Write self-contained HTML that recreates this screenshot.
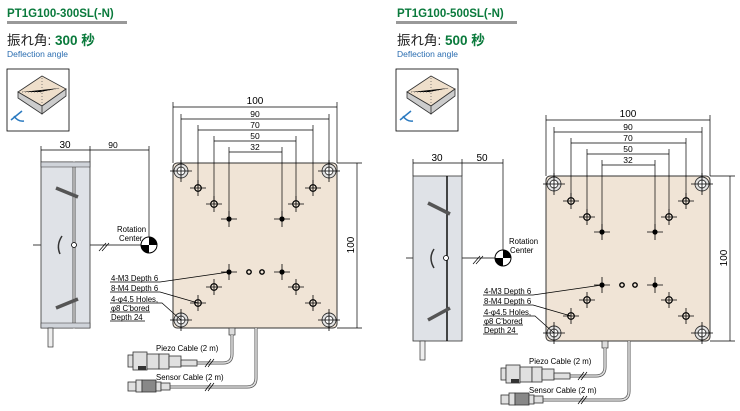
<!DOCTYPE html>
<html><head><meta charset="utf-8"><style>
html,body{margin:0;padding:0;background:#fff}
svg{display:block}
text{font-family:"Liberation Sans","Noto Sans CJK JP",sans-serif}
</style></head><body>
<svg width="740" height="411" viewBox="0 0 740 411" xmlns="http://www.w3.org/2000/svg">
<defs>
<g id="big"><circle r="7" fill="#e4e4e4" stroke="#333" stroke-width="0.9"/><circle r="4" fill="#fff" stroke="#333" stroke-width="0.9"/><path d="M-11 0H11M0 -11V11" stroke="#000" stroke-width="0.8"/></g>
<g id="m4"><circle r="3.3" fill="none" stroke="#000" stroke-width="1.2"/><path d="M-8 0H8M0 -8V8" stroke="#000" stroke-width="0.8"/></g>
<g id="m3"><circle r="2.6" fill="#000"/><path d="M-8 0H8M0 -8V8" stroke="#000" stroke-width="0.8"/></g>
<g id="plate">
<rect x="173" y="163" width="164" height="165" rx="4" fill="#f0e4d6" stroke="#333" stroke-width="1"/>
<g stroke="#000" stroke-width="0.7" fill="none">
<path d="M173 163V102M337 163V102M181 163V114M329 163V114M198 188V125M313 188V125M214 204V136M296 204V136M229 219V147M282 219V147"/>
<path d="M173 107H337M181 119H329M198 130H313M214 141H296M229 152H282"/>
<path d="M337 163H362M337 328H362M357 163V328"/>
</g>
<use href="#big" x="181" y="171"/><use href="#big" x="329" y="171"/><use href="#big" x="181" y="320"/><use href="#big" x="329" y="320"/>
<use href="#m4" x="198" y="188"/><use href="#m4" x="313" y="188"/><use href="#m4" x="214" y="204"/><use href="#m4" x="296" y="204"/>
<use href="#m4" x="214" y="287"/><use href="#m4" x="296" y="287"/><use href="#m4" x="198" y="303"/><use href="#m4" x="313" y="303"/>
<use href="#m3" x="229" y="219"/><use href="#m3" x="282" y="219"/><use href="#m3" x="229" y="272"/><use href="#m3" x="282" y="272"/>
<circle cx="249" cy="272" r="2.2" fill="none" stroke="#000" stroke-width="1.4"/><circle cx="262" cy="272" r="2.2" fill="none" stroke="#000" stroke-width="1.4"/>
<g stroke="#000" stroke-width="0.7" fill="none">
<path d="M110 282H160L229 272"/><path d="M110 292H160L198 303"/><path d="M110 303H162L181 320"/>
<path d="M110 312H150M110 321H145"/>
</g>
<rect x="229" y="328" width="6" height="7" fill="#ddd" stroke="#333" stroke-width="0.7"/>
<path d="M232 335V354Q232 363 223 363H197" fill="none" stroke="#555" stroke-width="3"/>
<path d="M232 335V354Q232 363 223 363H197" fill="none" stroke="#ddd" stroke-width="1.6"/>
<path d="M256 328V378Q256 387 247 387H170" fill="none" stroke="#555" stroke-width="3"/>
<path d="M256 328V378Q256 387 247 387H170" fill="none" stroke="#ddd" stroke-width="1.6"/>
<path d="M205 367L211 359M208 367L214 359M205 391L211 383M208 391L214 383" stroke="#000" stroke-width="0.7"/>
<g stroke="#333" stroke-width="0.8" fill="#e0e0e0">
<rect x="128" y="355" width="5" height="12"/><rect x="133" y="352" width="14" height="18"/><rect x="147" y="354" width="12" height="15"/><rect x="159" y="354" width="10" height="15"/><rect x="169" y="356" width="12" height="11"/><rect x="181" y="360" width="16" height="6"/>
<rect x="128" y="382" width="8" height="9"/><rect x="136" y="380" width="6" height="12"/><rect x="142" y="380" width="14" height="12" fill="#888"/><rect x="156" y="382" width="5" height="9"/><rect x="161" y="383" width="9" height="7"/>
</g>
<path d="M138 366H146V370H138Z" fill="#333"/>
</g>
<g id="icon">
<rect x="7" y="69" width="62" height="62" fill="#fff" stroke="#000" stroke-width="0.8"/>
<path d="M18 92L42 76L66 89L42 106Z" fill="#efdfcb" stroke="#333" stroke-width="0.8"/>
<path d="M18 92V98L42 114V106ZM42 106V114L66 96V89Z" fill="#ccc" stroke="#333" stroke-width="0.8"/>
<path d="M42 78V104M22 92H40L60 88" stroke="#555" stroke-width="0.7" stroke-dasharray="1 2"/>
<path d="M14 116Q18 122 24 121M11 120L22 111" stroke="#2b7ac0" stroke-width="1.5" fill="none"/>
</g>
</defs>

<text x="7" y="17" font-size="11.5" font-weight="bold" fill="#0a7a3c">PT1G100-300SL(-N)</text>
<rect x="7" y="21" width="120" height="3" fill="#999"/>
<text x="7" y="45" font-size="13.5" fill="#222">振れ角: <tspan fill="#0a7a3c" font-weight="bold">300 秒</tspan></text>
<text x="7" y="57" font-size="8.5" fill="#2a6db0">Deflection angle</text>
<use href="#icon"/>
<use href="#plate"/>
<g font-size="8.5" fill="#000" text-anchor="middle">
<text x="255" y="104" font-size="10">100</text><text x="255" y="117">90</text><text x="255" y="128">70</text><text x="255" y="139">50</text><text x="255" y="150">32</text>
<text x="354" y="245" font-size="10" transform="rotate(-90 354 245)">100</text>
<text x="65" y="148" font-size="10">30</text><text x="113" y="148">90</text>
</g>
<g stroke="#000" stroke-width="0.7" fill="none">
<path d="M41 162V146M90 162V146M149 146V237M41 150H149M33 245H141"/>
<path d="M99 251L106 243M102 251L109 243"/>
</g>
<rect x="41" y="162" width="32" height="166" fill="#dfe2e7" stroke="#333" stroke-width="0.8"/>
<rect x="75" y="162" width="15" height="166" fill="#dfe2e7" stroke="#333" stroke-width="0.8"/>
<path d="M41 162H90V167H41ZM41 323H90V328H41Z" fill="#cfd3d9" stroke="#333" stroke-width="0.6"/>
<path d="M56 188L78 197M56 308L78 299" stroke="#555" stroke-width="3.5"/>
<path d="M62 236Q56 245 60 254" stroke="#333" stroke-width="1.5" fill="none"/>
<circle cx="74" cy="245" r="2.5" fill="#fff" stroke="#000" stroke-width="0.8"/>
<rect x="48" y="328" width="5" height="19" fill="#eee" stroke="#333" stroke-width="0.7"/>
<circle cx="149" cy="245" r="8" fill="#fff" stroke="#000"/><path d="M149 237A8 8 0 0 1 157 245H149ZM149 253A8 8 0 0 1 141 245H149Z" fill="#000"/>
<g font-size="7.8" fill="#000">
<text x="117" y="232">Rotation</text><text x="119" y="241">Center</text>
<text x="111" y="281">4-M3 Depth 6</text><text x="111" y="291">8-M4 Depth 6</text><text x="111" y="302">4-φ4.5 Holes,</text><text x="111" y="311">φ8 C'bored</text><text x="111" y="320">Depth 24</text>
<text x="156" y="351">Piezo Cable (2 m)</text><text x="156" y="380">Sensor Cable (2 m)</text>
</g>

<text x="397" y="17" font-size="11.5" font-weight="bold" fill="#0a7a3c">PT1G100-500SL(-N)</text>
<rect x="396" y="21" width="121" height="3" fill="#999"/>
<text x="397" y="45" font-size="13.5" fill="#222">振れ角: <tspan fill="#0a7a3c" font-weight="bold">500 秒</tspan></text>
<text x="397" y="57" font-size="8.5" fill="#2a6db0">Deflection angle</text>
<use href="#icon" x="389"/>
<g transform="translate(373,13)"><use href="#plate"/>
<g font-size="8.5" fill="#000" text-anchor="middle">
<text x="255" y="104" font-size="10">100</text><text x="255" y="117">90</text><text x="255" y="128">70</text><text x="255" y="139">50</text><text x="255" y="150">32</text>
<text x="354" y="245" font-size="10" transform="rotate(-90 354 245)">100</text>
</g>
<g font-size="7.8" fill="#000">
<text x="111" y="281">4-M3 Depth 6</text><text x="111" y="291">8-M4 Depth 6</text><text x="111" y="302">4-φ4.5 Holes,</text><text x="111" y="311">φ8 C'bored</text><text x="111" y="320">Depth 24</text>
<text x="156" y="351">Piezo Cable (2 m)</text><text x="156" y="380">Sensor Cable (2 m)</text>
</g></g>
<g font-size="10" fill="#000" text-anchor="middle"><text x="437" y="161">30</text><text x="482" y="161">50</text></g>
<g stroke="#000" stroke-width="0.7" fill="none">
<path d="M413 176V159M462 176V159M503 159V250M413 163H503M406 258H495"/>
<path d="M473 264L480 256M476 264L483 256"/>
</g>
<rect x="413" y="176" width="49" height="165" fill="#dfe2e7" stroke="#333" stroke-width="0.8"/>
<path d="M447 176V341" stroke="#000" stroke-width="1.4"/>
<path d="M428 203L450 214M428 320L450 308" stroke="#555" stroke-width="3.5"/>
<path d="M434 249Q428 258 434 268" stroke="#333" stroke-width="1.5" fill="none"/>
<circle cx="446" cy="258" r="2.5" fill="#fff" stroke="#000" stroke-width="0.8"/>
<rect x="420" y="341" width="5" height="19" fill="#eee" stroke="#333" stroke-width="0.7"/>
<circle cx="503" cy="258" r="8" fill="#fff" stroke="#000"/><path d="M503 250A8 8 0 0 1 511 258H503ZM503 266A8 8 0 0 1 495 258H503Z" fill="#000"/>
<g font-size="7.8" fill="#000"><text x="509" y="244">Rotation</text><text x="510" y="253">Center</text></g>
</svg>
</body></html>
